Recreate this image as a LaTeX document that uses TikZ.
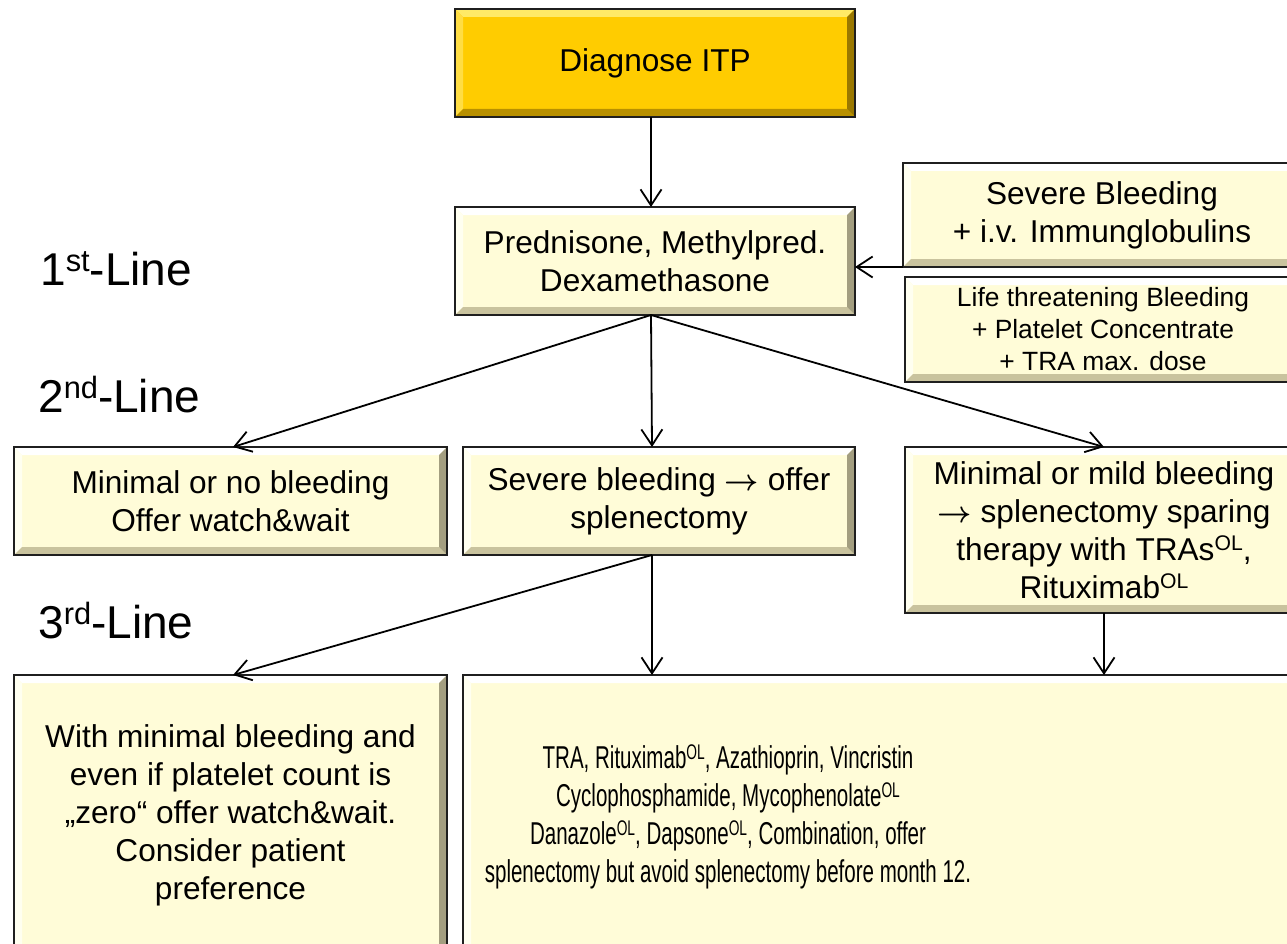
\documentclass[tikz,border=0pt]{standalone}
\usepackage{fontspec}
\usepackage{graphicx}
\setmainfont{Liberation Sans}
\usetikzlibrary{arrows.meta,calc}
\definecolor{cream}{HTML}{FFFCD8}
\definecolor{creamT}{HTML}{FFFFFF}
\definecolor{creamL}{HTML}{FFFFF0}
\definecolor{creamB}{HTML}{C9C39E}
\definecolor{creamR}{HTML}{A39E80}
\definecolor{gold}{HTML}{FFCC00}
\definecolor{goldT}{HTML}{FFEA66}
\definecolor{goldL}{HTML}{FFDD44}
\definecolor{goldB}{HTML}{B89000}
\definecolor{goldR}{HTML}{9A7800}
\newcommand\sups[1]{\raisebox{0.3em}{\scalebox{0.67}{#1}}}
\newcommand\rarr{\raisebox{-0.02em}{\scalebox{1.2}{\ensuremath{\boldsymbol{\rightarrow}}}}}
\usepackage{amsmath}
\newcommand\bodyfont{\fontsize{31.6}{38}\selectfont}
\newcommand\smallbfont{\fontsize{26.4}{32}\selectfont}
\newcommand\labfont{\fontsize{46}{55}\selectfont}
\def\bw{8pt}
\tikzset{
  bev/.style n args={4}{path picture={
    \coordinate (q1) at (path picture bounding box.north west);
    \coordinate (q2) at (path picture bounding box.north east);
    \coordinate (q3) at (path picture bounding box.south east);
    \coordinate (q4) at (path picture bounding box.south west);
    \fill[#1] (q1) -- (q2) -- ([shift={(-\bw,-\bw)}]q2) -- ([shift={(\bw,-\bw)}]q1) -- cycle;
    \fill[#2] (q1) -- ([shift={(\bw,-\bw)}]q1) -- ([shift={(\bw,\bw)}]q4) -- (q4) -- cycle;
    \fill[#3] (q4) -- ([shift={(\bw,\bw)}]q4) -- ([shift={(-\bw,\bw)}]q3) -- (q3) -- cycle;
    \fill[#4] (q3) -- ([shift={(-\bw,\bw)}]q3) -- ([shift={(-\bw,-\bw)}]q2) -- (q2) -- cycle;
  }},
  box/.style 2 args={draw=black!88, line width=2.6pt, fill=cream,
    bev={creamT}{creamL}{creamB}{creamR},
    minimum width=#1, minimum height=#2, inner sep=0pt, outer sep=0pt,
    align=center, font=\bodyfont},
  goldbox/.style 2 args={box={#1}{#2}, fill=gold, bev={goldT}{goldL}{goldB}{goldR}},
  conn/.style={line width=1.8pt, -{Straight Barb[length=16pt,width=21pt,line width=1.8pt]}},
  lab/.style={anchor=base west, inner sep=0pt, font=\labfont}
}
\begin{document}
\begin{tikzpicture}[x=1pt,y=-1pt]
\clip (0,0) rectangle (1287,944);
\fill[white] (0,0) rectangle (1287,944);

% boxes
\node[goldbox={400pt}{108pt}] (diag) at (655,63) {Diagnose ITP};
\node[box={400pt}{108pt}] (pred) at (655,261) {Prednisone, Methylpred.\\Dexamethasone};
\node[box={398pt}{104pt}] (sb) at (1102,215) {Severe Bleeding\\+ i.v. Immunglobulins};
\node[box={396pt}{105pt}, font=\smallbfont] (life) at (1103,329.5) {Life threatening Bleeding\\+ Platelet Concentrate\\+ TRA max. dose};
\node[box={433pt}{108pt}] (mnb) at (230.5,501) {Minimal or no bleeding\\Offer watch\&wait};
\node[box={392pt}{108pt}] (sev) at (659,501) {Severe bleeding \rarr{} offer\\splenectomy};
\node[box={398pt}{166pt}] (mild) at (1104,530) {Minimal or mild bleeding\\\rarr{} splenectomy sparing\\therapy with TRAs\sups{OL},\\Rituximab\sups{OL}};
\node[box={433pt}{280pt}] (wml) at (230.5,815) {With minimal bleeding and\\even if platelet count is\\„zero“ offer watch\&wait.\\Consider patient\\preference};
\node[box={847pt}{280pt}] (tra) at (886.5,815) {};
\node[inner sep=0pt, font=\bodyfont] (tratext) at (728,818) {\scalebox{0.65}[1]{\setlength\tabcolsep{0pt}\begin{tabular}{c}TRA, Rituximab\sups{OL}, Azathioprin, Vincristin\\Cyclophosphamide, Mycophenolate\sups{OL}\\Danazole\sups{OL}, Dapsone\sups{OL}, Combination, offer\\splenectomy but avoid splenectomy before month 12.\end{tabular}}};

% labels
\node[lab] (l1) at (40,285) {1\sups{st}-Line};
\node[lab] (l2) at (38,412) {2\sups{nd}-Line};
\node[lab] (l3) at (38,638) {3\sups{rd}-Line};

% connectors
\draw[conn] ([xshift=-4pt]diag.south) -- ([xshift=-4pt]pred.north);
\draw[conn] (sb.south west) -- (sb.south west -| pred.east);
\draw[conn] ([xshift=-4pt]pred.south) -- ([xshift=2.5pt]mnb.north);
\draw[conn] ([xshift=-4pt]pred.south) -- ([xshift=-7pt]sev.north);
\draw[conn] ([xshift=-4pt]pred.south) -- (mild.north);
\draw[conn] ([xshift=-7pt]sev.south) -- ([xshift=2.5pt]wml.north);
\draw[conn] ([xshift=-7pt]sev.south) -- ([xshift=-7pt]sev.south |- tra.north);
\draw[conn] (mild.south) -- (mild.south |- tra.north);
\end{tikzpicture}
\end{document}
